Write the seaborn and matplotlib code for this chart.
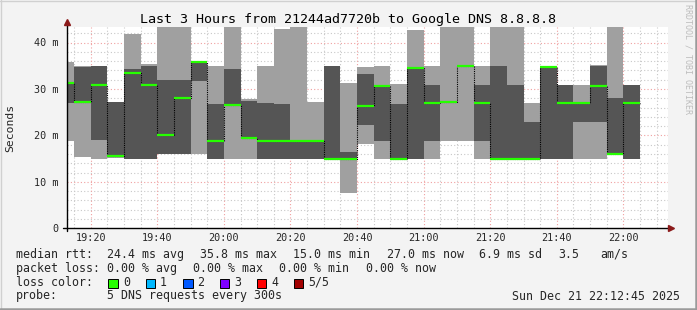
import numpy as np
import pandas as pd
import matplotlib
matplotlib.use("Agg")
import matplotlib.pyplot as plt
from matplotlib.patches import Rectangle
from matplotlib.lines import Line2D
import seaborn as sns

# ---------------- data (5 pings per step, sorted quantiles, ms) ----------------
times = ["19:15", "19:20", "19:25", "19:30", "19:35", "19:40", "19:45", "19:50", "19:55", "20:00",
         "20:05", "20:10", "20:15", "20:20", "20:25", "20:30", "20:35", "20:40", "20:45", "20:50",
         "20:55", "21:00", "21:05", "21:10", "21:15", "21:20", "21:25", "21:30", "21:35", "21:40",
         "21:45", "21:50", "21:55", "22:00", "22:05"]
rtt_min = [18.7, 15.3, 15.0, 15.2, 15.0, 15.0, 15.9, 15.9, 15.9, 15.0,
           15.0, 15.0, 15.0, 15.0, 15.0, 15.0, 15.0, 7.6, 18.1, 15.0,
           15.0, 15.0, 15.0, 18.9, 18.9, 15.0, 15.0, 15.0, 15.0, 15.0,
           15.0, 15.0, 15.0, 15.8, 15.0]
rtt_p2 = [27.0, 27.1, 19.1, 15.3, 15.0, 15.0, 15.9, 15.9, 31.7, 15.0,
          26.4, 19.4, 15.0, 15.0, 15.0, 15.0, 15.0, 15.0, 22.2, 18.7,
          15.0, 15.0, 18.9, 27.2, 35.0, 18.9, 15.0, 15.0, 15.0, 15.0,
          15.0, 22.9, 22.9, 15.8, 15.0]
rtt_med = [31.2, 27.2, 30.8, 15.5, 33.5, 30.8, 20.0, 28.1, 35.8, 18.9,
           26.5, 19.4, 18.9, 18.9, 18.9, 18.7, 15.0, 15.0, 26.3, 30.6,
           15.0, 34.5, 27.0, 27.2, 35.0, 27.0, 15.0, 15.0, 15.0, 34.7,
           27.0, 27.0, 30.6, 16.0, 27.0]
rtt_p4 = [31.2, 34.7, 34.9, 27.2, 34.4, 35.0, 31.9, 31.9, 35.8, 26.8,
          34.4, 27.3, 27.0, 26.7, 19.1, 18.8, 35.0, 16.4, 33.3, 30.6,
          26.8, 34.5, 30.9, 27.2, 35.0, 30.9, 35.0, 30.9, 22.9, 34.8,
          30.9, 27.0, 34.9, 28.1, 30.9]
rtt_max = [35.8, 34.9, 35.0, 27.2, 41.8, 35.3, 44.5, 44.5, 36.1, 35.0,
           44.5, 27.9, 35.0, 42.9, 44.5, 27.2, 35.0, 31.3, 34.7, 35.0,
           31.0, 42.7, 35.0, 44.5, 44.5, 35.0, 44.5, 44.5, 27.0, 35.0,
           30.9, 30.9, 35.1, 44.5, 30.9]

tick_times = ["19:20", "19:40", "20:00", "20:20", "20:40", "21:00", "21:20", "21:40", "22:00"]
y_ticks = [0, 10, 20, 30, 40]
y_tick_labels = ["0", "10 m", "20 m", "30 m", "40 m"]
title = "Last 3 Hours from 21244ad7720b to Google DNS 8.8.8.8"
loss_labels = ["0", "1", "2", "3", "4", "5/5"]
loss_colors = ["#26ff00", "#00b8ff", "#0059ff", "#7e00ff", "#ff0000", "#a10000"]

# ---------------- helpers ----------------
def minutes(t):
    h, m = t.split(":")
    return (int(h) - 19) * 60 + int(m)

ends = np.array([minutes(t) for t in times], dtype=float)
starts = ends - 5
df = pd.DataFrame({"start": starts, "end": ends, "min": rtt_min, "p2": rtt_p2,
                   "med": rtt_med, "p4": rtt_p4, "max": rtt_max})

sns.set_style("white")
plt.rcParams['font.family'] = ['DejaVu Sans Mono']
MONO = 'DejaVu Sans Mono'

W, H = 697, 310
fig = plt.figure(figsize=(W / 100, H / 100), dpi=100, facecolor='#f3f3f3')

def fx(x):
    return x / W

def fy(y):
    return 1 - y / H

X0, X1 = 66.6, 668.0
Y0, Y1 = 228.3, 27.0
PX_PER_MIN = 3.329
PX_PER_MS = 4.645
ax = fig.add_axes([fx(X0), fy(Y0), (X1 - X0) / W, (Y0 - Y1) / H])
ax.set_facecolor('white')
t_start = 12.75
ax.set_xlim(t_start, t_start + (X1 - X0) / PX_PER_MIN)
ax.set_ylim(0, (Y0 - Y1) / PX_PER_MS)

# grid
grid_minor = '#c8c8c8'
grid_major = '#f0a0a0'
for v in np.arange(2, 44, 2):
    if v % 10:
        ax.axhline(v, color=grid_minor, lw=0.8, ls=(0, (1, 2)), zorder=0)
for v in [10, 20, 30, 40]:
    ax.axhline(v, color=grid_major, lw=0.8, ls=(0, (1, 2)), zorder=0.5)
major_x = [minutes(t) for t in tick_times]
for m in np.arange(15, 195, 5):
    if m not in major_x:
        ax.axvline(m, color=grid_minor, lw=0.8, ls=(0, (1, 2)), zorder=0)
for m in major_x:
    ax.axvline(m, color=grid_major, lw=0.8, ls=(0, (1, 2)), zorder=0.5)

# smoke
ax.bar(df["start"], df["max"] - df["min"], bottom=df["min"], width=5, align='edge',
       color='#a0a0a0', linewidth=0, zorder=2)
ax.bar(df["start"], df["p4"] - df["p2"], bottom=df["p2"], width=5, align='edge',
       color='#555555', linewidth=0, zorder=3)

# median: dotted step connector + green segments
step_x = np.concatenate([[starts[0]], ends])
step_y = np.concatenate([[rtt_med[0]], rtt_med])
sns.lineplot(x=step_x, y=step_y, drawstyle='steps-pre', color='black',
             linewidth=0.8, linestyle=(0, (1, 1)), ax=ax, zorder=4, estimator=None)
ax.hlines(df["med"], df["start"], df["end"], colors=loss_colors[0], linewidth=1.6, zorder=5)

# ticks
ax.set_xticks(major_x)
ax.set_xticklabels(tick_times, fontsize=7.3, family=MONO)
ax.set_xticks(np.arange(15, 195, 5), minor=True)
ax.set_yticks(y_ticks)
ax.set_yticklabels(y_tick_labels, fontsize=7.3, family=MONO)
ax.set_yticks(np.arange(2, 44, 2), minor=True)
ax.tick_params(axis='x', which='major', length=2, width=0.8, color='#e08080', pad=1.5)
ax.tick_params(axis='x', which='minor', length=2, width=0.8, color='#bbbbbb')
ax.tick_params(axis='y', which='major', length=2.5, width=0.8, color='#e08080', pad=3.3)
ax.tick_params(axis='y', which='minor', length=2, width=0.8, color='#bbbbbb')
ax.set_xlabel("")
ax.set_ylabel("")
for s in ax.spines.values():
    s.set_visible(False)

# axes lines with arrows
fig.add_artist(Line2D([fx(X0), fx(X0)], [fy(231), fy(24)], color='black', lw=1))
fig.add_artist(Line2D([fx(63), fx(670)], [fy(Y0), fy(Y0)], color='black', lw=1))
fig.add_artist(Line2D([fx(X0)], [fy(22)], marker='^', markersize=4.5, color='#8b1a1a', lw=0))
fig.add_artist(Line2D([fx(671)], [fy(Y0)], marker='>', markersize=4.5, color='#8b1a1a', lw=0))

# title & labels
fig.text(0.5, fy(19), title, ha='center', va='center', fontsize=9.6, family=MONO, color='black')
fig.text(fx(10), fy(128), "Seconds", rotation=90, ha='center', va='center', fontsize=8.2, family=MONO)
fig.text(fx(688), fy(59), "RRDTOOL / TOBI OETIKER", rotation=270, ha='center', va='center',
         fontsize=6.0, family=MONO, color='#bdbdbd')

# legend text
LS = 8.4
line1 = [("median rtt:", 16), ("24.4 ms avg", 107.3), ("35.8 ms max", 200), ("15.0 ms min", 293.3),
         ("27.0 ms now", 386.7), ("6.9 ms sd", 479.3), ("3.5", 558.3), ("am/s", 600)]
line2 = [("packet loss:", 16), ("0.00 % avg", 107.3), ("0.00 % max", 193.3),
         ("0.00 % min", 279.3), ("0.00 % now", 366)]
for txt, x in line1:
    fig.text(fx(x), fy(254.3), txt, ha='left', va='center', fontsize=LS, family=MONO)
for txt, x in line2:
    fig.text(fx(x), fy(268.3), txt, ha='left', va='center', fontsize=LS, family=MONO)
fig.text(fx(16), fy(282.3), "loss color:", ha='left', va='center', fontsize=LS, family=MONO)
sq_x = [108.3, 145.7, 183.0, 219.7, 256.7, 293.7]
lab_x = [123.3, 160.0, 197.0, 234.0, 271.0, 308.0]
for lab, col, sx, lx in zip(loss_labels, loss_colors, sq_x, lab_x):
    fig.add_artist(Rectangle((fx(sx), fy(287.5)), 9.5 / W, 9 / H, facecolor=col,
                             edgecolor='black', lw=0.7, transform=fig.transFigure))
    fig.text(fx(lx), fy(282.3), lab, ha='left', va='center', fontsize=LS, family=MONO)
fig.text(fx(16), fy(296), "probe:", ha='left', va='center', fontsize=LS, family=MONO)
fig.text(fx(107.3), fy(296), "5 DNS requests every 300s", ha='left', va='center', fontsize=LS, family=MONO)
fig.text(fx(680.5), fy(296), "Sun Dec 21 22:12:45 2025", ha='right', va='center', fontsize=LS, family=MONO)

# 3D frame
fig.add_artist(Line2D([0, 1], [fy(0.5), fy(0.5)], color='#d0d0d0', lw=1))
fig.add_artist(Line2D([fx(0.5), fx(0.5)], [0, 1], color='#d0d0d0', lw=1))
fig.add_artist(Line2D([0, 1], [fy(308.8), fy(308.8)], color='#9a9a9a', lw=1.8))
fig.add_artist(Line2D([fx(695.8), fx(695.8)], [0, 1], color='#9a9a9a', lw=1.8))

fig.savefig("out.png", dpi=100, facecolor=fig.get_facecolor())
